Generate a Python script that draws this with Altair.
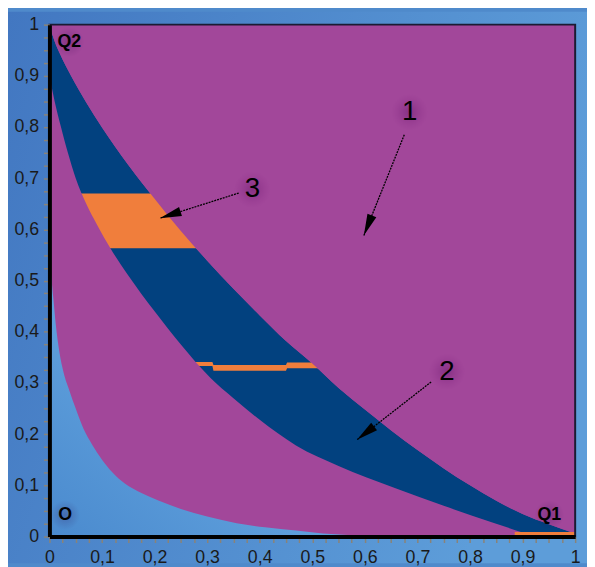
import math
import altair as alt
import pandas as pd

# ---------------- data ----------------
# upper edge of the dark-blue band
upper_x = [0.0, 0.01, 0.02, 0.04, 0.07, 0.1, 0.15, 0.2, 0.25, 0.3, 0.35, 0.4, 0.45, 0.5,
           0.55, 0.6, 0.65, 0.7, 0.75, 0.8, 0.85, 0.9, 0.95, 1.0]
upper_y = [1.0, 0.967, 0.943, 0.902, 0.848, 0.799, 0.726, 0.660, 0.597, 0.539, 0.484, 0.432,
           0.382, 0.338, 0.290, 0.248, 0.207, 0.169, 0.133, 0.100, 0.070, 0.044, 0.024, 0.006]
# lower edge of the dark-blue band
lower_x = [0.0, 0.01, 0.022, 0.035, 0.05, 0.07, 0.09, 0.116, 0.15, 0.2, 0.25, 0.306, 0.35,
           0.4, 0.469, 0.55, 0.657, 0.75, 0.844, 0.9, 0.925, 1.0]
lower_y = [0.9, 0.85, 0.80, 0.75, 0.70, 0.65, 0.61, 0.563, 0.51, 0.44, 0.375, 0.31, 0.27,
           0.228, 0.178, 0.138, 0.095, 0.06, 0.027, 0.008, 0.0, 0.0]
# edge of the light-blue region near the origin
light_x = [0.0, 0.003, 0.007, 0.012, 0.019, 0.027, 0.038, 0.05, 0.065, 0.081, 0.1, 0.12,
           0.144, 0.175, 0.206, 0.25, 0.3, 0.356, 0.41, 0.469, 0.52, 0.567, 0.6]
light_y = [0.52, 0.51, 0.47, 0.415, 0.36, 0.32, 0.285, 0.25, 0.21, 0.18, 0.15, 0.125,
           0.103, 0.085, 0.071, 0.054, 0.039, 0.026, 0.018, 0.0116, 0.006, 0.003, 0.0]
# orange patch (region 3), horizontal extent per height (trimmed by the band edges)
patch_y = [0.563, 0.615, 0.670]
patch_left = [0.09, 0.07, 0.04]
patch_right = [0.30, 0.26, 0.23]
# thin orange strip across the band near y = 0.33 (trimmed by the band edges)
strip_x = [0.26, 0.31, 0.312, 0.45, 0.452, 0.52]
strip_lo = [0.333, 0.333, 0.324, 0.324, 0.329, 0.329]
strip_hi = [0.341, 0.341, 0.335, 0.335, 0.340, 0.340]
# orange strip on the x axis near Q1
base_x = [0.885, 1.0]
base_lo = [0.0, 0.0]
base_hi = [0.009, 0.009]
# arrows: tail -> tip, with their numbers
arrow_names = ["1", "2", "3"]
arrow_tail_x = [0.675, 0.726, 0.360]
arrow_tail_y = [0.785, 0.302, 0.671]
arrow_tip_x = [0.598, 0.585, 0.210]
arrow_tip_y = [0.588, 0.189, 0.622]
num_x = [0.685, 0.756, 0.386]
num_y = [0.829, 0.322, 0.678]
# point labels
pt_labels = ["Q2", "Q1", "O"]
pt_x = [0.038, 0.951, 0.030]
pt_y = [0.966, 0.042, 0.042]

tick_vals = [round(i * 0.025, 3) for i in range(41)]

# ---------------- styling ----------------
W, H = 533, 519
PURPLE = "#a2479a"
DARK = "#02417f"
ORANGE = "#f07e3c"
FONT = "Liberation Sans"

label_expr = ("(abs(datum.value*10 - round(datum.value*10)) < 0.001) ? "
              "replace(format(datum.value, '.1~f'), '.', ',') : ''")

common_axis = dict(values=tick_vals, labelExpr=label_expr, grid=False, title=None,
                   domainColor="#000000", domainWidth=4, tickColor="#8a8377",
                   tickWidth=1.5, tickSize=6, labelFont=FONT, labelFontSize=18,
                   labelColor="#1a1a1a", labelOverlap=False, labelFlush=False,
                   labelBound=False, zindex=1)
x_axis = alt.Axis(labelPadding=6, **common_axis)
y_axis = alt.Axis(labelPadding=5, **common_axis)
xs = alt.Scale(domain=[0, 1], nice=False, zero=False)
ys = alt.Scale(domain=[0, 1], nice=False, zero=False)


def X(f):
    return alt.X(f, type="quantitative", scale=xs, axis=x_axis)


def Y(f):
    return alt.Y(f, type="quantitative", scale=ys, axis=y_axis)


frame = pd.DataFrame({"x": [0.0], "x2": [1.0], "y": [0.0], "y2": [1.0]})

bg = alt.Chart(frame).mark_rect(
    color=alt.LinearGradient(gradient="linear", x1=0, y1=0, x2=1, y2=0.3,
                             stops=[alt.GradientStop(color="#4277c1", offset=0),
                                    alt.GradientStop(color="#5d9dd9", offset=1)])
).encode(x=alt.value(-42), x2=alt.value(W + 12), y=alt.value(-13), y2=alt.value(H + 27))

plot_bg = alt.Chart(frame).mark_rect(color=PURPLE).encode(
    x=X("x"), x2="x2", y=Y("y"), y2="y2")

up_df = pd.DataFrame({"x": upper_x, "y": upper_y, "y0": [0.0] * len(upper_x),
                      "y1": [1.0] * len(upper_x)})
band = alt.Chart(up_df).mark_area(color=DARK, opacity=1, interpolate="monotone").encode(
    x=X("x"), y=Y("y"), y2="y0")

pa_df = pd.DataFrame({"y": patch_y, "xl": patch_left, "xr": patch_right})
patch = alt.Chart(pa_df).mark_area(color=ORANGE, orient="horizontal", opacity=1).encode(
    y=Y("y"), x=X("xl"), x2="xr")

st_df = pd.DataFrame({"x": strip_x, "lo": strip_lo, "hi": strip_hi})
strip = alt.Chart(st_df).mark_area(color=ORANGE, opacity=1).encode(x=X("x"), y=Y("lo"), y2="hi")

above = alt.Chart(up_df).mark_area(color=PURPLE, opacity=1, interpolate="monotone").encode(
    x=X("x"), y=Y("y"), y2="y1")

lo_df = pd.DataFrame({"x": lower_x, "y": lower_y, "y0": [0.0] * len(lower_x)})
under = alt.Chart(lo_df).mark_area(color=PURPLE, opacity=1, interpolate="monotone").encode(
    x=X("x"), y=Y("y"), y2="y0")

li_df = pd.DataFrame({"x": light_x, "y": light_y, "y0": [0.0] * len(light_x)})
light = alt.Chart(li_df).mark_area(
    color=alt.LinearGradient(gradient="linear", x1=0, y1=1, x2=1, y2=0,
                             stops=[alt.GradientStop(color="#4a8ace", offset=0),
                                    alt.GradientStop(color="#62a3de", offset=0.5),
                                    alt.GradientStop(color="#5a9bd8", offset=1)]),
    opacity=1, interpolate="monotone").encode(x=X("x"), y=Y("y"), y2="y0")

ba_df = pd.DataFrame({"x": base_x, "lo": base_lo, "hi": base_hi})
base = alt.Chart(ba_df).mark_area(color=ORANGE, opacity=1).encode(x=X("x"), y=Y("lo"), y2="hi")

border = alt.Chart(frame).mark_rect(fill=None, stroke="#1b1b33", strokeWidth=2).encode(
    x=X("x"), x2="x2", y=Y("y"), y2="y2")

angles = []
for tx, ty, hx, hy in zip(arrow_tail_x, arrow_tail_y, arrow_tip_x, arrow_tip_y):
    dxp = (hx - tx) * W
    dyp = -(hy - ty) * H
    angles.append(math.degrees(math.atan2(dxp, -dyp)) % 360)

ar_df = pd.DataFrame({"name": arrow_names, "tx": arrow_tail_x, "ty": arrow_tail_y,
                      "hx": arrow_tip_x, "hy": arrow_tip_y, "ang": angles,
                      "nx": num_x, "ny": num_y})

glow = alt.Chart(ar_df).mark_point(
    shape="circle", size=1400, filled=True, strokeWidth=0,
    fill=alt.RadialGradient(gradient="radial",
                            stops=[alt.GradientStop(color="rgba(70,0,80,0.45)", offset=0),
                                   alt.GradientStop(color="rgba(120,20,120,0)", offset=1)])
).encode(x=X("nx"), y=Y("ny"))

lines = alt.Chart(ar_df).mark_rule(color="#000000", strokeWidth=1.3, strokeDash=[2, 1]).encode(
    x=X("tx"), y=Y("ty"), x2="hx", y2="hy")

heads = alt.Chart(ar_df).mark_point(
    shape="M0,0 L0.22,1 L-0.22,1 Z", size=1936, filled=True, color="#000000", opacity=1
).encode(x=X("hx"), y=Y("hy"), angle=alt.Angle("ang:Q", scale=None))

nums = alt.Chart(ar_df).mark_text(font=FONT, fontSize=28, color="#000000",
                                  align="center", baseline="middle").encode(
    x=X("nx"), y=Y("ny"), text="name:N")

pl_df = pd.DataFrame({"label": pt_labels, "x": pt_x, "y": pt_y})
pglow = alt.Chart(pl_df).mark_point(
    shape="circle", size=900, filled=True, strokeWidth=0,
    fill=alt.RadialGradient(gradient="radial",
                            stops=[alt.GradientStop(color="rgba(40,0,70,0.35)", offset=0),
                                   alt.GradientStop(color="rgba(40,0,70,0)", offset=1)])
).encode(x=X("x"), y=Y("y"))
plabs = alt.Chart(pl_df).mark_text(font=FONT, fontSize=18, fontWeight="bold", color="#000000",
                                   align="center", baseline="middle").encode(
    x=X("x"), y=Y("y"), text="label:N")

chart = alt.layer(
    bg, plot_bg, band, patch, strip, above, under, light, base, border,
    glow, pglow, lines, heads, nums, plabs
).properties(
    width=W, height=H,
    autosize=alt.AutoSizeParams(type="none"),
    padding={"left": 42, "top": 13, "right": 12, "bottom": 27},
    background="#4f8acb",
).configure_view(stroke=None)

chart.save("out.html", embed_options={"renderer": "svg", "actions": False})
